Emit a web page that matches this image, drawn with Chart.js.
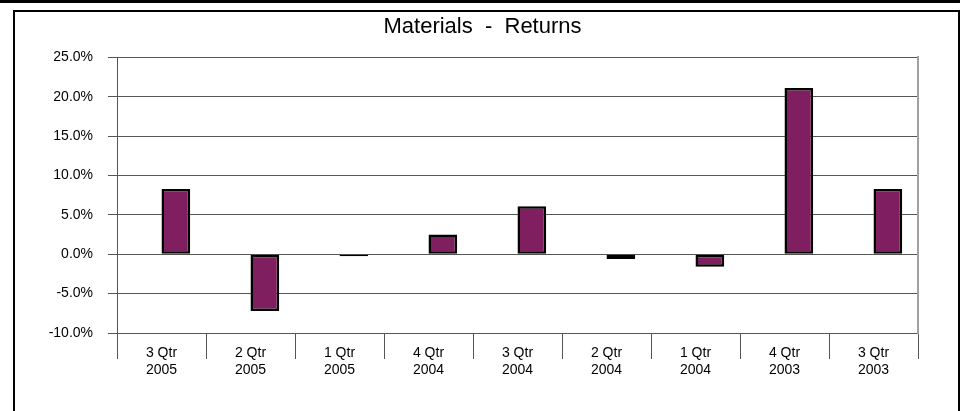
<!DOCTYPE html>
<html>
<head>
<meta charset="utf-8">
<script src="https://cdn.jsdelivr.net/npm/chart.js@4"></script>
<style>
  html, body { margin: 0; padding: 0; background: #fff; }
  #wrap { position: relative; width: 965px; height: 411px; overflow: hidden; }
  #c { position: absolute; left: 0; top: 0; }
  .topline { position: absolute; left: 0; top: 0; width: 960px; height: 3px; background: #000; }
  .box { position: absolute; left: 13px; top: 10px; width: 943px; height: 420px; border: 2px solid #000; border-bottom: none; }
</style>
</head>
<body>
<div id="wrap">
  <canvas id="c" width="965" height="411"></canvas>
  <div class="topline"></div>
  <div class="box"></div>
</div>
<script>
const titleText = 'Materials  -  Returns';
const quarters = ['3 Qtr', '2 Qtr', '1 Qtr', '4 Qtr', '3 Qtr', '2 Qtr', '1 Qtr', '4 Qtr', '3 Qtr'];
const years = ['2005', '2005', '2005', '2004', '2004', '2004', '2004', '2003', '2003'];
const returns = [8.3, -7.2, -0.25, 2.5, 6.1, -0.6, -1.6, 21.1, 8.3];
const emptySeries = [null, null, null, null, null, null, null, null, null];
const yMin = -10, yMax = 25, yStep = 5;

const labels = quarters.map((q, i) => [q, years[i]]);
const FONT = 'Arial, "Liberation Sans", sans-serif';
const GRID = '#555555';

new Chart(document.getElementById('c'), {
  type: 'bar',
  data: {
    labels: labels,
    datasets: [
      { label: '', data: emptySeries, backgroundColor: 'rgba(0,0,0,0)' },
      { label: 'Returns', data: returns, backgroundColor: '#7f1f5f', borderColor: '#000000', borderWidth: 2.5, borderSkipped: false }
    ]
  },
  options: {
    responsive: false,
    animation: false,
    devicePixelRatio: 1,
    layout: { padding: { left: 0, right: 0, top: 0, bottom: 0 } },
    datasets: { bar: { categoryPercentage: 0.645, barPercentage: 1.0 } },
    plugins: {
      legend: { display: false },
      tooltip: { enabled: false },
      title: {
        display: true,
        text: titleText,
        color: '#000',
        font: { family: FONT, size: 22, weight: 'normal' },
        padding: { top: 14, bottom: 17 }
      }
    },
    scales: {
      x: {
        offset: true,
        grid: { display: true, drawOnChartArea: false, drawTicks: true, tickLength: 26, color: GRID, offset: true },
        border: { display: true, color: GRID, width: 1 },
        ticks: { color: '#000', font: { family: FONT, size: 14, lineHeight: 1.15 }, padding: -13.5, maxRotation: 0, autoSkip: false },
        afterFit: s => { s.height = 78; }
      },
      y: {
        min: yMin, max: yMax,
        grid: { color: GRID, tickLength: 9, drawTicks: true },
        border: { display: true, color: GRID, width: 1 },
        ticks: { stepSize: yStep, color: '#000', font: { family: FONT, size: 14 }, padding: 15,
                 callback: v => v.toFixed(1) + '%' },
        afterFit: s => { s.width = 117; }
      },
      y2: {
        position: 'right',
        display: true,
        min: yMin, max: yMax,
        grid: { display: false, drawTicks: false },
        border: { display: true, color: '#a0a0a0', width: 2 },
        ticks: { display: false },
        afterFit: s => { s.width = 47; }
      }
    }
  }
});
</script>
</body>
</html>
